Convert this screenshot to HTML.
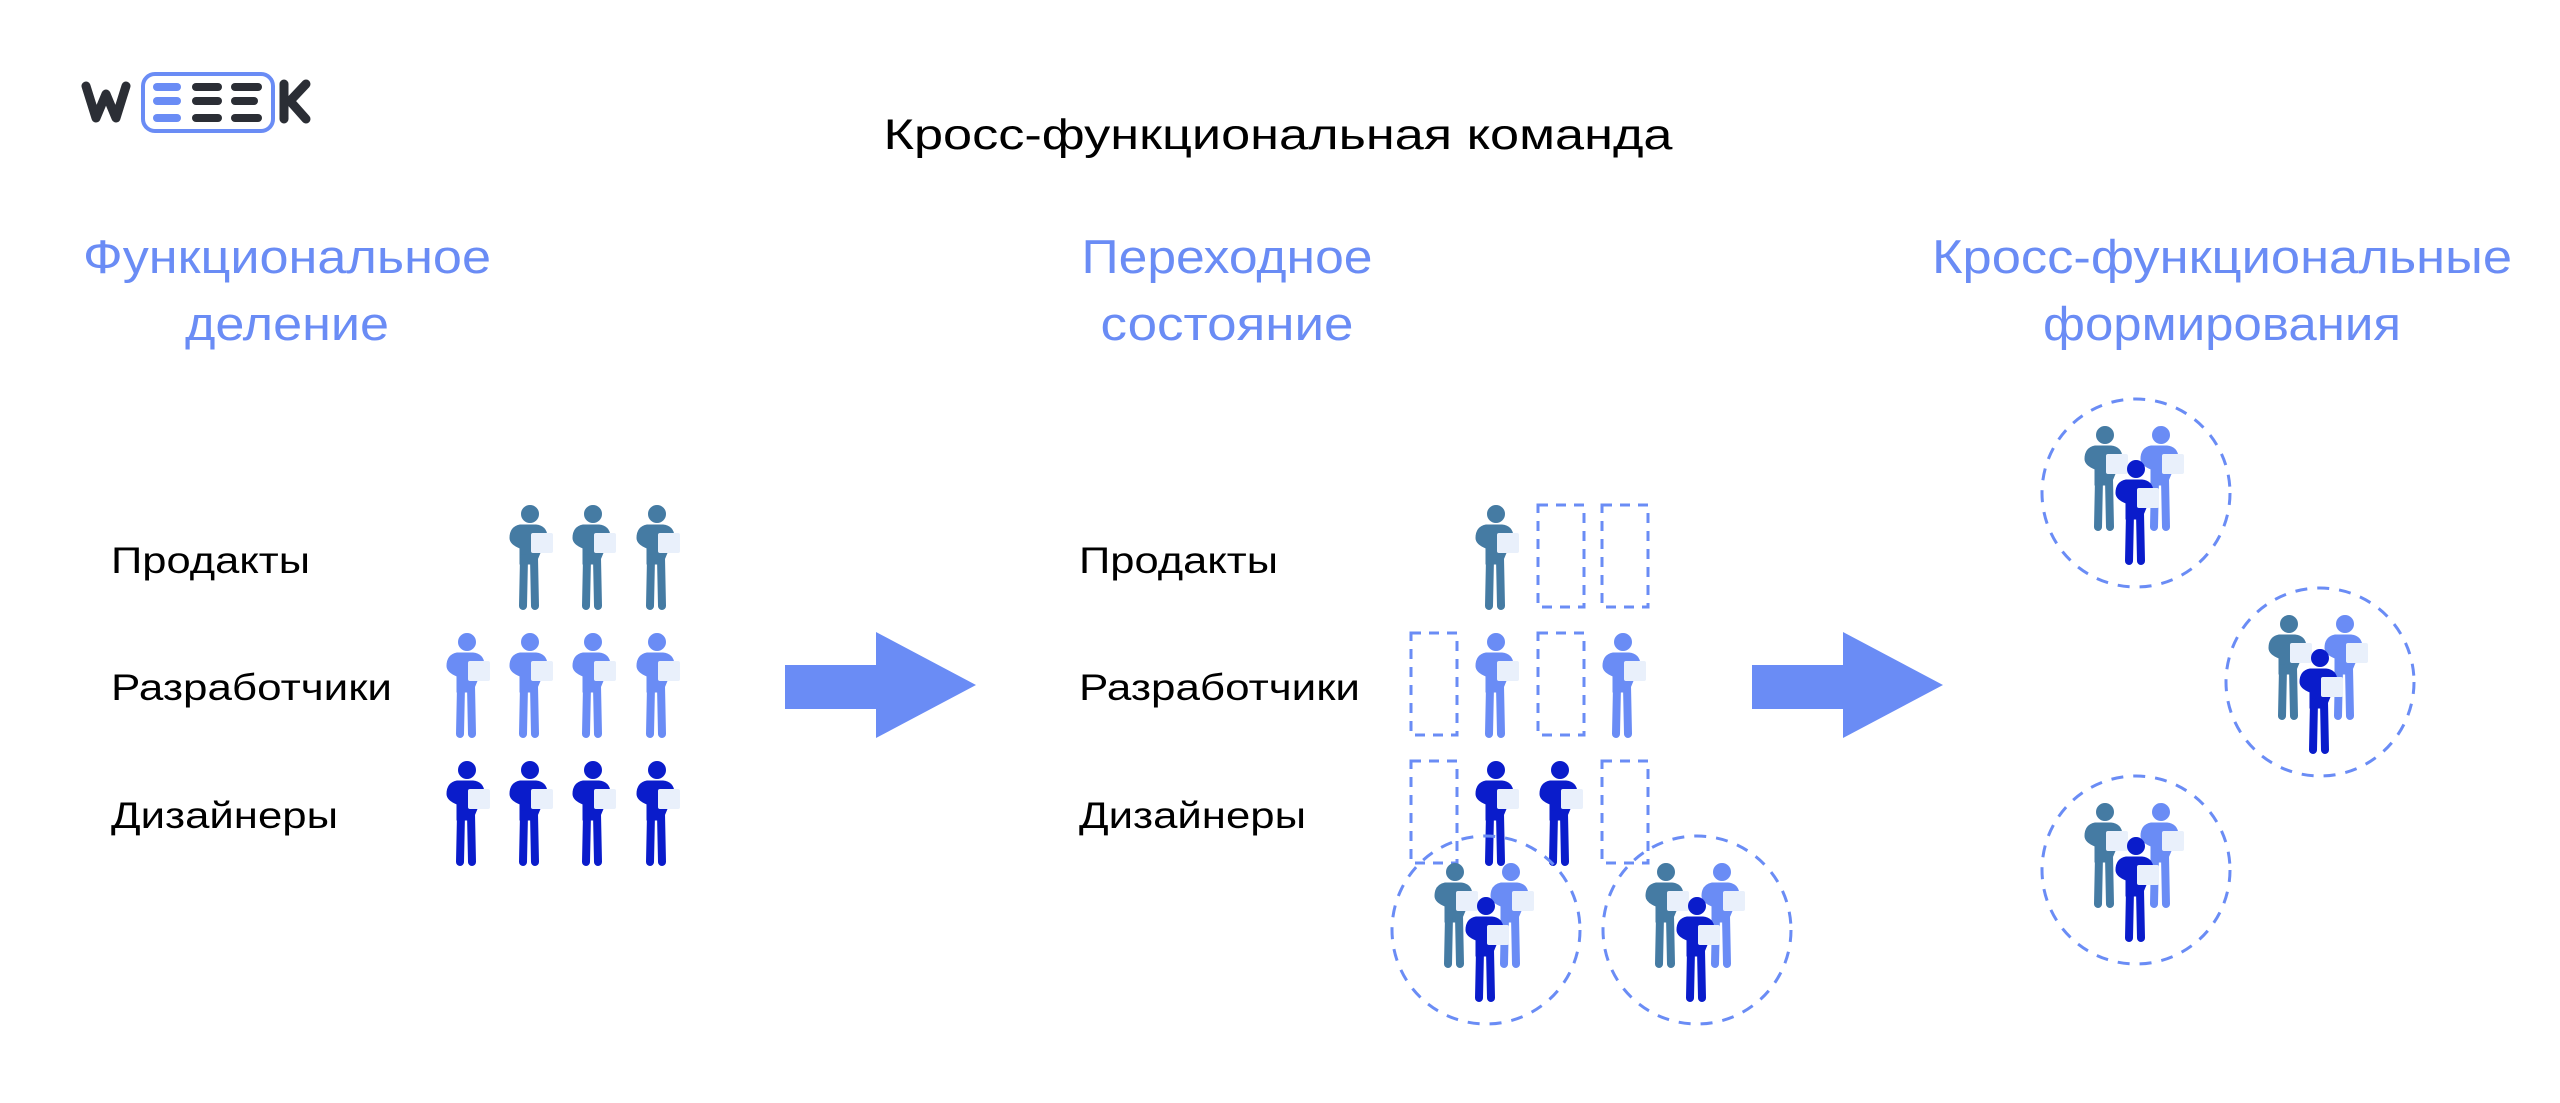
<!DOCTYPE html>
<html><head><meta charset="utf-8"><style>
html,body{margin:0;padding:0;background:#fff}
svg{display:block}
text{font-family:"Liberation Sans",sans-serif}
</style></head><body>
<svg width="2560" height="1103" viewBox="0 0 2560 1103" xmlns="http://www.w3.org/2000/svg">
<defs>
<g id="p">
<circle cx="0" cy="0" r="8.5"/>
<path d="M-10,11 L6,11 Q16,12 17,22 L7,46 L7,50 L-10,50 L-10,34 Q-20,30 -20,24 Q-20,13 -10,11 Z"/>
<line x1="-6" y1="44" x2="-7" y2="92" stroke-width="8" stroke-linecap="round"/>
<line x1="4" y1="44" x2="5" y2="92" stroke-width="8" stroke-linecap="round"/>
<rect x="1" y="19" width="22" height="20" rx="2" fill="#e9f0fb" stroke="none"/>
</g>
<g id="s"><use href="#p" fill="#457ba3" stroke="#457ba3"/></g>
<g id="l"><use href="#p" fill="#6a8cf5" stroke="#6a8cf5"/></g>
<g id="d"><use href="#p" fill="#0a1ccb" stroke="#0a1ccb"/></g>
<rect id="r" x="-23" y="-9" width="46" height="102" fill="none" stroke="#6a8cf5" stroke-width="3" stroke-dasharray="10 8"/>
<g id="grp">
<circle cx="0" cy="0" r="94" fill="none" stroke="#6a8cf5" stroke-width="3" stroke-dasharray="12 10"/>
<use href="#s" x="-31" y="-58"/>
<use href="#l" x="25" y="-58"/>
<use href="#d" x="0" y="-24"/>
</g>
</defs>

<!-- logo -->
<g stroke-linecap="round" stroke-linejoin="round" fill="none">
<path d="M86,86 L96,118 L106,94 L116,118 L126,86" stroke="#2b2e35" stroke-width="9"/>
<rect x="143" y="74" width="130" height="57" rx="12" stroke="#6a8cf5" stroke-width="4"/>
<g stroke-width="8">
<line x1="157" y1="87" x2="177" y2="87" stroke="#6a8cf5"/><line x1="157" y1="101" x2="177" y2="101" stroke="#6a8cf5"/><line x1="157" y1="118" x2="177" y2="118" stroke="#6a8cf5"/>
<line x1="196" y1="87" x2="218" y2="87" stroke="#2b2e35"/><line x1="196" y1="101" x2="218" y2="101" stroke="#2b2e35"/><line x1="196" y1="118" x2="218" y2="118" stroke="#2b2e35"/>
<line x1="235" y1="87" x2="258" y2="87" stroke="#2b2e35"/><line x1="235" y1="101" x2="254" y2="101" stroke="#2b2e35"/><line x1="235" y1="118" x2="258" y2="118" stroke="#2b2e35"/>
</g>
<path d="M284,84 L284,119 M306,84 L290,101 L306,119" stroke="#2b2e35" stroke-width="9"/>
</g>

<text x="1278" y="149" font-size="43" text-anchor="middle" fill="#000" textLength="789" lengthAdjust="spacingAndGlyphs">Кросс-функциональная команда</text>

<g font-size="47" fill="#6a8cf5" text-anchor="middle">
<text x="287" y="273" textLength="408" lengthAdjust="spacingAndGlyphs">Функциональное</text><text x="287" y="340" textLength="204" lengthAdjust="spacingAndGlyphs">деление</text>
<text x="1227" y="273" textLength="291" lengthAdjust="spacingAndGlyphs">Переходное</text><text x="1227" y="340" textLength="253" lengthAdjust="spacingAndGlyphs">состояние</text>
<text x="2222" y="273" textLength="580" lengthAdjust="spacingAndGlyphs">Кросс-функциональные</text><text x="2222" y="340" textLength="358" lengthAdjust="spacingAndGlyphs">формирования</text>
</g>

<g font-size="37" fill="#000" lengthAdjust="spacingAndGlyphs">
<text x="111" y="573" textLength="199" lengthAdjust="spacingAndGlyphs">Продакты</text><text x="111" y="700" textLength="281" lengthAdjust="spacingAndGlyphs">Разработчики</text><text x="111" y="828" textLength="227" lengthAdjust="spacingAndGlyphs">Дизайнеры</text>
<text x="1079" y="573" textLength="199" lengthAdjust="spacingAndGlyphs">Продакты</text><text x="1079" y="700" textLength="281" lengthAdjust="spacingAndGlyphs">Разработчики</text><text x="1079" y="828" textLength="227" lengthAdjust="spacingAndGlyphs">Дизайнеры</text>
</g>

<!-- left grid -->
<use href="#s" x="530" y="514"/><use href="#s" x="593" y="514"/><use href="#s" x="657" y="514"/>
<use href="#l" x="467" y="642"/><use href="#l" x="530" y="642"/><use href="#l" x="593" y="642"/><use href="#l" x="657" y="642"/>
<use href="#d" x="467" y="770"/><use href="#d" x="530" y="770"/><use href="#d" x="593" y="770"/><use href="#d" x="657" y="770"/>

<!-- arrows -->
<polygon points="785,665 876,665 876,632 976,685 876,738 876,709 785,709" fill="#6a8cf5"/>
<polygon points="1752,665 1843,665 1843,632 1943,685 1843,738 1843,709 1752,709" fill="#6a8cf5"/>

<!-- middle -->
<use href="#s" x="1496" y="514"/><use href="#r" x="1561" y="514"/><use href="#r" x="1625" y="514"/>
<use href="#r" x="1434" y="642"/><use href="#l" x="1496" y="642"/><use href="#r" x="1561" y="642"/><use href="#l" x="1623" y="642"/>
<use href="#r" x="1434" y="770"/><use href="#d" x="1496" y="770"/><use href="#d" x="1560" y="770"/><use href="#r" x="1625" y="770"/>
<use href="#grp" x="1486" y="930"/>
<use href="#grp" x="1697" y="930"/>

<!-- right -->
<use href="#grp" x="2136" y="493"/>
<use href="#grp" x="2320" y="682"/>
<use href="#grp" x="2136" y="870"/>
</svg>
</body></html>
